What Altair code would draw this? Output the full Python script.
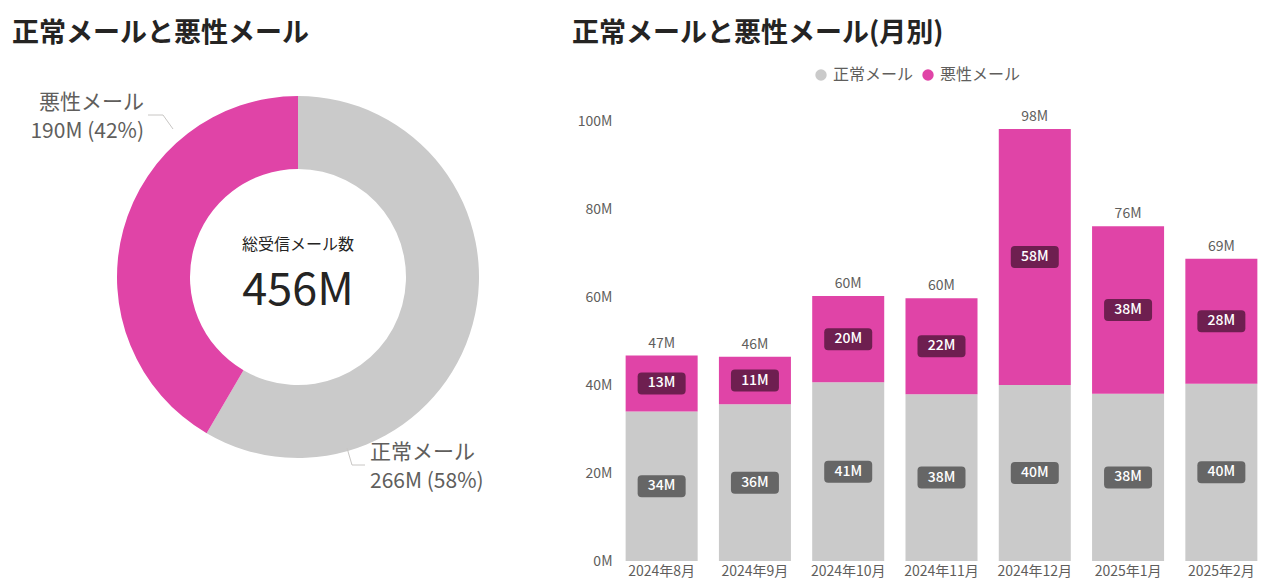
import altair as alt
import pandas as pd

# ---- data ----
months = ["2024年8月", "2024年9月", "2024年10月", "2024年11月", "2024年12月", "2025年1月", "2025年2月"]
normal = [34.0, 35.6, 40.6, 37.9, 40.0, 38.0, 40.3]
malicious = [12.7, 10.8, 19.6, 21.8, 58.2, 38.1, 28.4]
categories = ["正常メール", "悪性メール"]
tick_values = [0, 20, 40, 60, 80, 100]

# ---- styles ----
FONT = "Noto Sans CJK JP"
GRAY = "#CACACA"
PINK = "#E044A7"
BOX_GRAY = "#666666"
BOX_PINK = "#6E1F50"
TXT = "#605E5C"
DARK = "#252423"

# ---- derived tables ----
rows = []
for m, n, b in zip(months, normal, malicious):
    rows.append({"month": m, "cat": categories[0], "value": n, "ord": 0, "mid": n / 2, "label": f"{n:.0f}M"})
    rows.append({"month": m, "cat": categories[1], "value": b, "ord": 1, "mid": n + b / 2, "label": f"{b:.0f}M"})
bar_df = pd.DataFrame(rows)
tot_df = pd.DataFrame({"month": months, "total": [n + b for n, b in zip(normal, malicious)]})
tot_df["label"] = tot_df["total"].map(lambda v: f"{v:.0f}M")

sums = [sum(normal), sum(malicious)]
grand = sum(sums)
pie_df = pd.DataFrame({"cat": categories, "value": sums, "ord": [0, 1]})
pie_df["label"] = [f"{v:.0f}M ({v / grand * 100:.0f}%)" for v in sums]

# ---- donut (left) ----
CX, CY, R_OUT, R_IN = 286, 217, 181, 108
color_scale = alt.Scale(domain=categories, range=[GRAY, PINK])

arc = alt.Chart(pie_df).mark_arc(radius=R_OUT, radius2=R_IN).encode(
    theta=alt.Theta("value:Q", stack=True),
    color=alt.Color("cat:N", scale=color_scale, legend=None),
    order=alt.Order("ord:Q"),
    x=alt.value(CX),
    y=alt.value(CY),
)

center_title = alt.Chart(pd.DataFrame({"t": ["総受信メール数"]})).mark_text(
    fontSize=16, color=DARK, baseline="alphabetic", align="center"
).encode(x=alt.value(CX), y=alt.value(CY - 27), text="t:N")

center_value = alt.Chart(pd.DataFrame({"t": [f"{grand:.0f}M"]})).mark_text(
    fontSize=45, color=DARK, baseline="alphabetic", align="center"
).encode(x=alt.value(CX), y=alt.value(CY + 28), text="t:N")

mal_lab = pd.DataFrame({
    "t": [categories[1], pie_df["label"][1]],
    "x": [132, 132],
    "y": [49, 78],
})
nor_lab = pd.DataFrame({
    "t": [categories[0], pie_df["label"][0]],
    "x": [358, 358],
    "y": [399, 428],
})
lab_r = alt.Chart(mal_lab).mark_text(fontSize=21, color=TXT, align="right", baseline="alphabetic").encode(
    x=alt.X("x:Q", scale=None, axis=None), y=alt.Y("y:Q", scale=None, axis=None), text="t:N")
lab_l = alt.Chart(nor_lab).mark_text(fontSize=21, color=TXT, align="left", baseline="alphabetic").encode(
    x=alt.X("x:Q", scale=None, axis=None), y=alt.Y("y:Q", scale=None, axis=None), text="t:N")

leader_df = pd.DataFrame({
    "g": ["m", "m", "m", "n", "n", "n"],
    "o": [0, 1, 2, 0, 1, 2],
    "x": [136, 151, 161, 335, 340, 353],
    "y": [55, 55, 69, 388, 405, 405],
})
leaders = alt.Chart(leader_df).mark_line(color="#C8C6C4", strokeWidth=1).encode(
    x=alt.X("x:Q", scale=None, axis=None), y=alt.Y("y:Q", scale=None, axis=None),
    detail="g:N", order="o:Q")

left = alt.layer(arc, leaders, center_title, center_value, lab_r, lab_l).properties(
    width=540, height=501,
    title=alt.Title("正常メールと悪性メール", anchor="start", frame="group", fontSize=27,
                    fontWeight="bold", color=DARK, offset=12),
)

# ---- stacked bars (right) ----
YMAX = 501 / 4.4
x_enc = alt.X("month:N", sort=months, scale=alt.Scale(paddingInner=0.228, paddingOuter=0.114),
              axis=alt.Axis(title=None, labelAngle=0, ticks=False, domain=False, labelFontSize=14,
                            labelColor=TXT, labelPadding=3))
y_scale = alt.Scale(domain=[0, YMAX], nice=False)

bars = alt.Chart(bar_df).mark_bar().encode(
    x=x_enc,
    y=alt.Y("value:Q", stack="zero", scale=y_scale,
            axis=alt.Axis(values=tick_values, labelExpr="datum.value + 'M'", title=None, ticks=False,
                          domain=False, grid=False, labelFontSize=14, labelColor=TXT, labelPadding=3)),
    color=alt.Color("cat:N", scale=color_scale,
                    legend=alt.Legend(orient="none", legendX=198, legendY=7, direction="horizontal",
                                      title=None, symbolType="circle", symbolSize=130,
                                      symbolStrokeWidth=0, labelFontSize=16, labelColor=TXT,
                                      columnPadding=6, labelOffset=4, padding=0)),
    order=alt.Order("ord:Q"),
)

BOX = ("M-0.8333,-0.4583 L0.8333,-0.4583 Q1,-0.4583 1,-0.2917 L1,0.2917 Q1,0.4583 0.8333,0.4583 "
       "L-0.8333,0.4583 Q-1,0.4583 -1,0.2917 L-1,-0.2917 Q-1,-0.4583 -0.8333,-0.4583 Z")

def boxes(cat, col):
    return alt.Chart(bar_df).transform_filter(alt.datum.cat == cat).mark_point(
        shape=BOX, size=48 * 48, filled=True, opacity=1, color=col, strokeWidth=0
    ).encode(x=alt.X("month:N", sort=months), y=alt.Y("mid:Q", scale=y_scale))

box_text = alt.Chart(bar_df).mark_text(color="white", fontSize=14, fontWeight=500, baseline="middle").encode(
    x=alt.X("month:N", sort=months), y=alt.Y("mid:Q", scale=y_scale), text="label:N")

totals = alt.Chart(tot_df).mark_text(color=TXT, fontSize=14, baseline="alphabetic", dy=-8).encode(
    x=alt.X("month:N", sort=months), y=alt.Y("total:Q", scale=y_scale), text="label:N")

right = alt.layer(bars, boxes(categories[0], BOX_GRAY), boxes(categories[1], BOX_PINK), box_text, totals).properties(
    width=653, height=501,
    title=alt.Title("正常メールと悪性メール(月別)", anchor="start", frame="group", fontSize=27,
                    fontWeight="bold", color=DARK, offset=12, dx=-43),
)

chart = alt.hconcat(left, right, spacing=20).resolve_scale(color="independent").resolve_legend(
    color="independent"
).properties(
    padding={"left": 4, "top": 12, "right": 0, "bottom": 0}
).configure(font=FONT).configure_view(stroke=None)

chart.save("out.html", embed_options={"renderer": "svg", "actions": False})
